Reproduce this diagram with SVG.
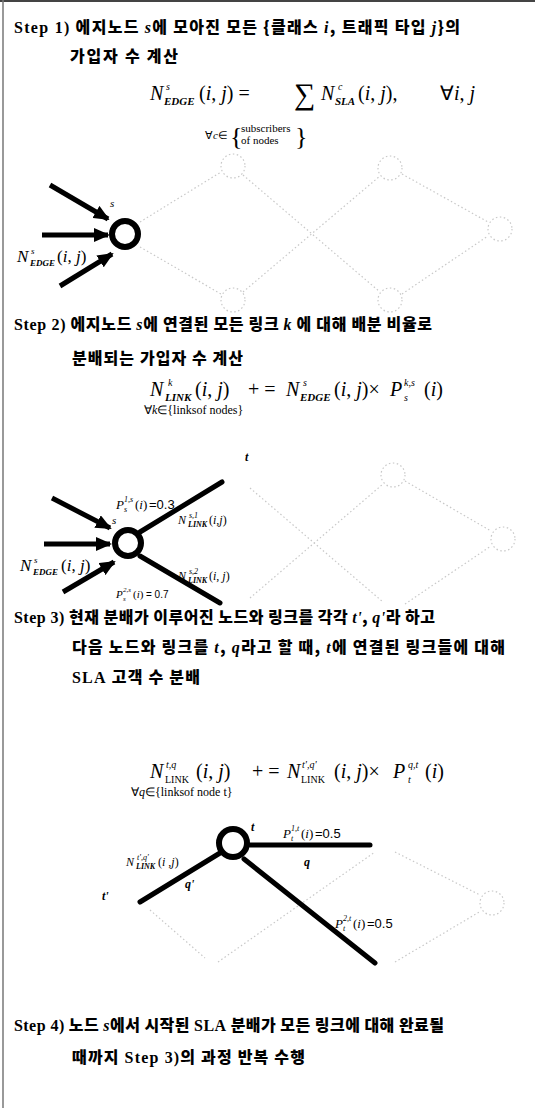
<svg xmlns="http://www.w3.org/2000/svg" width="535" height="1108" viewBox="0 0 535 1108">
<style>
.h{font-family:"Noto Sans CJK KR",sans-serif;font-weight:900;font-size:16px;fill:#000}
.l{font-family:"Liberation Serif",serif;font-weight:700}
.li{font-family:"Liberation Serif",serif;font-weight:700;font-style:italic}
.m{font-family:"Liberation Serif",serif;font-size:20px;fill:#000}
.i{font-style:italic}
.sp{font-size:10px;font-style:italic}
.sb{font-size:11px;font-style:italic;font-weight:700}
.u{font-size:10px}
.lb{font-family:"Liberation Serif",serif;font-size:12px;fill:#000}
.ls{font-family:"Liberation Sans",sans-serif}
.faint{stroke:#c8c8c8;stroke-width:1.2;stroke-dasharray:1.5 2.5;fill:none}
.thick{stroke:#000;stroke-width:5;stroke-linecap:round;fill:none}
.arr{stroke:#000;stroke-width:5;fill:none;marker-end:url(#ah)}
.node{fill:#fff;stroke:#000;stroke-width:6}
</style>
<defs>
<marker id="ah" markerUnits="userSpaceOnUse" markerWidth="16" markerHeight="14" refX="14" refY="7" orient="auto">
<path d="M0,0 L16,7 L0,14 Z" fill="#000"/>
</marker>
</defs>
<g id="frame">
<line x1="0" y1="1" x2="535" y2="1" stroke="#444" stroke-width="2"/>
<line x1="3" y1="0" x2="3" y2="1108" stroke="#777" stroke-width="1.5"/>
</g>
<g id="step1-text">
<text class="h" x="14" y="33" textLength="446"><tspan class="l">Step 1)</tspan> 에지노드 <tspan class="li">s</tspan>에 모아진 모든 {클래스 <tspan class="li">i</tspan>, 트래픽 타입 <tspan class="li">j</tspan>}의</text>
<text class="h" x="70" y="62" textLength="108">가입자 수 계산</text>
</g>
<g id="formula1">
<text class="m"><tspan class="i" x="150" y="100">N</tspan><tspan class="sp" x="166" y="90">s</tspan><tspan class="sb" x="164" y="105">EDGE</tspan><tspan x="199" y="100">(<tspan class="i">i</tspan>, <tspan class="i">j</tspan>) =</tspan><tspan x="294" y="104" style="font-size:30px">∑</tspan><tspan class="i" x="321" y="100">N</tspan><tspan class="sp" x="338" y="90">c</tspan><tspan class="sb" x="335" y="105">SLA</tspan><tspan x="358" y="100">(<tspan class="i">i</tspan>, <tspan class="i">j</tspan>),</tspan><tspan x="440" y="100">∀<tspan class="i">i</tspan>, <tspan class="i">j</tspan></tspan></text>
<text class="lb" style="font-size:11px"><tspan x="205" y="139">∀<tspan class="i">c</tspan>∈</tspan><tspan x="241" y="132">subscribers</tspan><tspan x="241" y="144">of nodes</tspan></text>
<text class="lb" style="font-size:26px" x="230" y="145">{</text>
<text class="lb" style="font-size:26px" x="295" y="145">}</text>
</g>
<g id="connectors">
<g id="net1-faint">
<circle class="faint" cx="233" cy="166" r="12"/>
<circle class="faint" cx="390" cy="168" r="12"/>
<circle class="faint" cx="500" cy="229" r="12"/>
<circle class="faint" cx="233" cy="300" r="12"/>
<circle class="faint" cx="390" cy="300" r="12"/>
<line class="faint" x1="140" y1="222" x2="221" y2="172"/>
<line class="faint" x1="140" y1="247" x2="221" y2="294"/>
<line class="faint" x1="243" y1="175" x2="380" y2="292"/>
<line class="faint" x1="243" y1="292" x2="380" y2="176"/>
<line class="faint" x1="402" y1="174" x2="488" y2="222"/>
<line class="faint" x1="402" y1="294" x2="488" y2="236"/>
</g>
<g id="arrows1">
<line class="arr" x1="50" y1="185" x2="108" y2="219"/>
<line class="arr" x1="42" y1="235" x2="108" y2="235"/>
<line class="arr" x1="60" y1="286" x2="112" y2="254"/>
</g>
<g id="net2-faint">
<circle class="faint" cx="393" cy="475" r="12" stroke-dasharray="1.5 5"/>
<circle class="faint" cx="503" cy="539" r="12"/>
<line class="faint" x1="250" y1="488" x2="383" y2="602"/>
<line class="faint" x1="250" y1="598" x2="383" y2="484"/>
<line class="faint" x1="405" y1="481" x2="491" y2="531"/>
<line class="faint" x1="405" y1="604" x2="491" y2="546"/>
</g>
<g id="arrows2">
<line class="arr" x1="52" y1="498" x2="110" y2="528"/>
<line class="arr" x1="44" y1="544" x2="110" y2="544"/>
<line class="arr" x1="63" y1="592" x2="114" y2="562"/>
</g>
<g id="links2">
<line class="thick" x1="140" y1="532" x2="222" y2="482"/>
<line class="thick" x1="140" y1="556" x2="220" y2="603"/>
</g>
<g id="net3-faint">
<circle class="faint" cx="492" cy="903" r="12"/>
<line class="faint" x1="150" y1="910" x2="205" y2="958"/>
<line class="faint" x1="218" y1="962" x2="375" y2="852"/>
<line class="faint" x1="395" y1="852" x2="480" y2="895"/>
<line class="faint" x1="395" y1="962" x2="481" y2="911"/>
</g>
<g id="links3">
<line class="thick" x1="220" y1="853" x2="140" y2="902"/>
<line class="thick" x1="250" y1="845" x2="370" y2="845"/>
<line class="thick" x1="244" y1="859" x2="375" y2="963"/>
</g>
</g>
<g id="node-s1">
<circle class="node" cx="125" cy="234" r="13"/>
<text class="lb i" x="110" y="207" style="font-size:11px">s</text>
<text class="m" style="font-size:17px"><tspan class="i" x="17" y="262">N</tspan><tspan class="sp" x="31" y="254" style="font-size:9px">s</tspan><tspan class="sb" x="30" y="266" style="font-size:9px">EDGE</tspan><tspan x="57" y="262">(<tspan class="i">i</tspan>, <tspan class="i">j</tspan>)</tspan></text>
</g>
<g id="step2-text">
<text class="h" x="14" y="330" textLength="418"><tspan class="l">Step 2)</tspan> 에지노드 <tspan class="li">s</tspan>에 연결된 모든 링크 <tspan class="li">k</tspan> 에 대해 배분 비율로</text>
<text class="h" x="72" y="364" textLength="171">분배되는 가입자 수 계산</text>
</g>
<g id="formula2">
<text class="m"><tspan class="i" x="150" y="396">N</tspan><tspan class="sp" x="168" y="386">k</tspan><tspan class="sb" x="165" y="401">LINK</tspan><tspan x="195" y="396">(<tspan class="i">i</tspan>, <tspan class="i">j</tspan>)</tspan><tspan x="248" y="396">+ =</tspan><tspan class="i" x="286" y="396">N</tspan><tspan class="sp" x="303" y="386">s</tspan><tspan class="sb" x="300" y="401">EDGE</tspan><tspan x="334" y="396">(<tspan class="i">i</tspan>, <tspan class="i">j</tspan>)×</tspan><tspan class="i" x="390" y="396">P</tspan><tspan class="sp" x="404" y="386">k,s</tspan><tspan class="sp" x="404" y="401">s</tspan><tspan x="424" y="396">(<tspan class="i">i</tspan>)</tspan></text>
<text class="lb" style="font-size:12px" x="144" y="414">∀<tspan class="i">k</tspan>∈{linksof nodes}</text>
</g>
<g id="node-s2">
<circle class="node" cx="128" cy="543" r="13"/>
<text class="lb i" x="112" y="524" style="font-size:11px">s</text>
<text class="lb i" x="245" y="461" style="font-size:12px;font-weight:700">t</text>
<text class="lb" style="font-size:13px"><tspan class="i" x="116" y="509">P</tspan><tspan class="sp" x="124" y="502" style="font-size:8px">1,s</tspan><tspan class="sp" x="124" y="512" style="font-size:8px">s</tspan><tspan x="135" y="509">(<tspan class="i">i</tspan>)</tspan><tspan class="ls" x="149" y="509">=0.3</tspan></text>
<text class="lb" style="font-size:12px"><tspan class="i" x="178" y="524">N</tspan><tspan class="sp" x="189" y="518" style="font-size:8px">s,1</tspan><tspan class="sb" x="188" y="527" style="font-size:8px">LINK</tspan><tspan x="209" y="524">(<tspan class="i">i</tspan>,<tspan class="i">j</tspan>)</tspan></text>
<text class="m" style="font-size:17px"><tspan class="i" x="20" y="571">N</tspan><tspan class="sp" x="34" y="563" style="font-size:9px">s</tspan><tspan class="sb" x="33" y="575" style="font-size:9px">EDGE</tspan><tspan x="61" y="571">(<tspan class="i">i</tspan>, <tspan class="i">j</tspan>)</tspan></text>
<text class="lb" style="font-size:12px"><tspan class="i" x="178" y="580">N</tspan><tspan class="sp" x="189" y="574" style="font-size:8px">s,2</tspan><tspan class="sb" x="188" y="583" style="font-size:8px">LINK</tspan><tspan x="209" y="580">(<tspan class="i">i</tspan>, <tspan class="i">j</tspan>)</tspan></text>
<text class="lb" style="font-size:11px"><tspan class="i" x="116" y="598">P</tspan><tspan class="sp" x="123" y="592" style="font-size:7px">2,s</tspan><tspan class="sp" x="123" y="601" style="font-size:7px">s</tspan><tspan x="133" y="598">(<tspan class="i">i</tspan>)</tspan><tspan class="ls" x="146" y="598" style="font-size:10px">= 0.7</tspan></text>
</g>
<g id="step3-text">
<text class="h" x="14" y="623" textLength="421"><tspan class="l">Step 3)</tspan> 현재 분배가 이루어진 노드와 링크를 각각 <tspan class="li">t'</tspan>, <tspan class="li">q'</tspan>라 하고</text>
<text class="h" x="72" y="653" textLength="433">다음 노드와 링크를 <tspan class="li">t</tspan>, <tspan class="li">q</tspan>라고 할 때, <tspan class="li">t</tspan>에 연결된 링크들에 대해</text>
<text class="h" x="72" y="683" textLength="128"><tspan class="l">SLA</tspan> 고객 수 분배</text>
</g>
<g id="formula3">
<text class="m"><tspan class="i" x="150" y="778">N</tspan><tspan class="sp" x="166" y="768">t,q</tspan><tspan class="u" x="165" y="783">LINK</tspan><tspan x="196" y="778">(<tspan class="i">i</tspan>, <tspan class="i">j</tspan>)</tspan><tspan x="252" y="778">+ =</tspan><tspan class="i" x="287" y="778">N</tspan><tspan class="sp" x="302" y="768">t',q'</tspan><tspan class="u" x="301" y="783">LINK</tspan><tspan x="334" y="778">(<tspan class="i">i</tspan>, <tspan class="i">j</tspan>)×</tspan><tspan class="i" x="393" y="778">P</tspan><tspan class="sp" x="408" y="768">q,t</tspan><tspan class="sp" x="408" y="783">t</tspan><tspan x="425" y="778">(<tspan class="i">i</tspan>)</tspan></text>
<text class="lb" style="font-size:12px" x="131" y="796">∀<tspan class="i">q</tspan>∈{linksof node t}</text>
</g>
<g id="node-t3">
<circle class="node" cx="233" cy="843" r="14"/>
<text class="lb i" x="251" y="831" style="font-size:12px;font-weight:700">t</text>
<text class="lb" style="font-size:13px"><tspan class="i" x="283" y="838">P</tspan><tspan class="sp" x="291" y="831" style="font-size:8px">1,t</tspan><tspan class="sp" x="291" y="841" style="font-size:8px">t</tspan><tspan x="301" y="838">(<tspan class="i">i</tspan>)</tspan><tspan class="ls" x="315" y="838">=0.5</tspan></text>
<text class="lb i" x="304" y="866" style="font-weight:700">q</text>
<text class="lb" style="font-size:12px"><tspan class="i" x="126" y="866">N</tspan><tspan class="sp" x="137" y="860" style="font-size:8px">t',q'</tspan><tspan class="sb" x="136" y="869" style="font-size:8px">LINK</tspan><tspan x="158" y="866">(<tspan class="i">i</tspan> ,<tspan class="i">j</tspan>)</tspan></text>
<text class="lb i" x="185" y="888" style="font-weight:700">q'</text>
<text class="lb i" x="102" y="900" style="font-weight:700">t'</text>
<text class="lb" style="font-size:13px"><tspan class="i" x="335" y="928">P</tspan><tspan class="sp" x="343" y="921" style="font-size:8px">2,t</tspan><tspan class="sp" x="343" y="931" style="font-size:8px">t</tspan><tspan x="353" y="928">(<tspan class="i">i</tspan>)</tspan><tspan class="ls" x="367" y="928">=0.5</tspan></text>
</g>
<g id="step4-text">
<text class="h" x="14" y="1031" textLength="430"><tspan class="l">Step 4)</tspan> 노드 <tspan class="li">s</tspan>에서 시작된 <tspan class="l">SLA</tspan> 분배가 모든 링크에 대해 완료될</text>
<text class="h" x="72" y="1063" textLength="233">때까지 <tspan class="l">Step 3)</tspan>의 과정 반복 수행</text>
</g>
</svg>
